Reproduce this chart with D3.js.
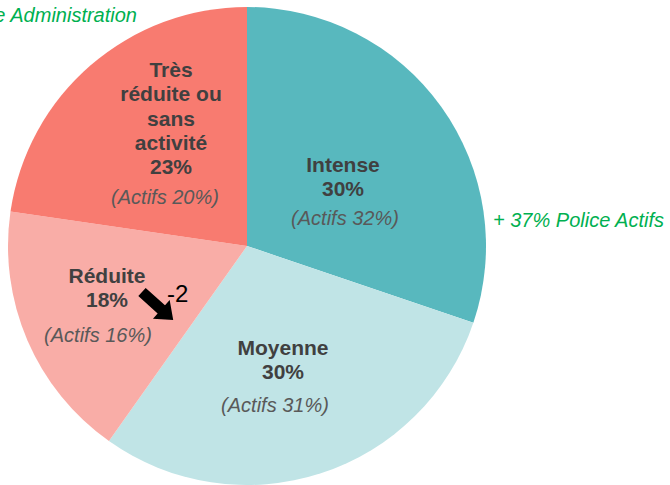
<!DOCTYPE html>
<html><head><meta charset="utf-8">
<script src="https://cdn.jsdelivr.net/npm/d3@7"></script>
<style>html,body{margin:0;padding:0;background:#fff;overflow:hidden}</style>
</head><body>
<svg id="chart" width="670" height="485"></svg>
<script>
const categories = ["Intense", "Moyenne", "Réduite", "Très réduite ou sans activité"];
const labelLines = [["Intense"], ["Moyenne"], ["Réduite"], ["Très", "réduite ou", "sans", "activité"]];
const shares = [30.2, 29.6, 17.5, 22.7];
const actifs = [32, 31, 16, 20];
const colors = ["#58B8BE", "#C0E4E6", "#F9ADA7", "#F87B70"];

const svg = d3.select("#chart");
const cx = 247, cy = 246, R = 239;
const g = svg.append("g").attr("transform", `translate(${cx},${cy})`);
const pie = d3.pie().sort(null).value(d => d);
const arcs = pie(shares);
const arc = d3.arc().innerRadius(0).outerRadius(R);
g.selectAll("path.slice").data(arcs).enter().append("path")
  .attr("class", "slice").attr("d", arc).attr("fill", (d, i) => colors[i]);

// label anchors (centre x, first baseline y) relative to the page
const labelPos = [[343, 172], [283, 355], [107, 283], [171, 77]];
const actifsPos = [[345, 225], [275, 412], [98, 342], [165, 204]];
const lh = 24.3;
const bold = "700 21px 'Liberation Sans', Arial, sans-serif";
const ital = "italic 400 20px 'Liberation Sans', Arial, sans-serif";
categories.forEach((c, i) => {
  const lines = labelLines[i].concat([Math.round(shares[i]) + "%"]);
  const t = svg.append("text").attr("text-anchor", "middle").style("font", bold).attr("fill", "#404040");
  lines.forEach((l, j) => t.append("tspan").attr("x", labelPos[i][0]).attr("y", labelPos[i][1] + j * lh).text(l));
  svg.append("text").attr("x", actifsPos[i][0]).attr("y", actifsPos[i][1]).attr("text-anchor", "middle")
    .style("font", ital).attr("fill", "#595959").text(`(Actifs ${actifs[i]}%)`);
});

// green annotations
const green = "italic 400 20px 'Liberation Sans', Arial, sans-serif";
svg.append("text").attr("x", 137).attr("y", 22).attr("text-anchor", "end")
  .style("font", green).attr("fill", "#00B050")
  .text("Police Administration");
svg.append("text").attr("x", 493).attr("y", 227)
  .style("font", green).attr("fill", "#00B050")
  .text("+ 37% Police Actifs");

// arrow annotation near Réduite
const arrow = svg.append("g").attr("transform", "translate(142,292) rotate(42)");
arrow.append("path").attr("d", "M0,-5.5 L26,-5.5 L26,-12.5 L42,0 L26,12.5 L26,5.5 L0,5.5 Z").attr("fill", "#000");
svg.append("text").attr("x", 167).attr("y", 302)
  .style("font", "400 24px 'Liberation Sans', Arial, sans-serif").attr("fill", "#000").text("-2");
</script>
</body></html>
